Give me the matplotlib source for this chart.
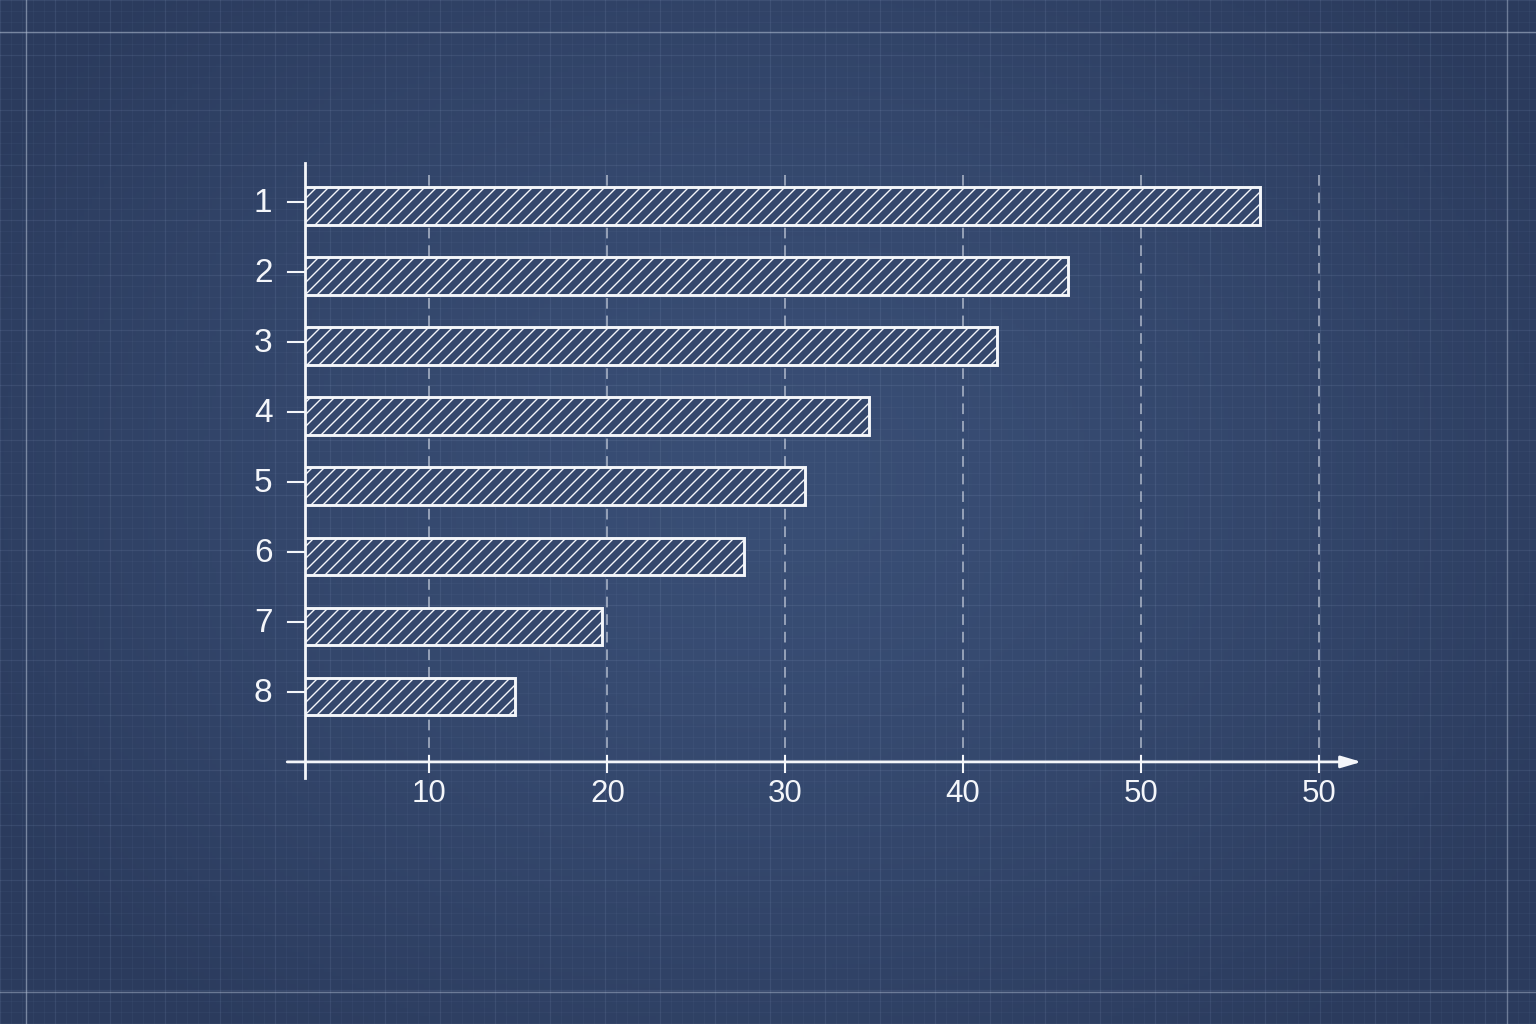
import numpy as np
import matplotlib
matplotlib.use("Agg")
import matplotlib.pyplot as plt

categories = ["1", "2", "3", "4", "5", "6", "7", "8"]
values = [56.7, 45.9, 41.9, 34.7, 31.1, 27.7, 19.7, 14.8]
x_ticks = [10, 20, 30, 40, 50, 60]
x_tick_labels = ["10", "20", "30", "40", "50", "50"]

DPI = 144
S = 100 / DPI  # scale point sizes designed at 100 dpi
BG = "#34476c"
WHITE = "#f4f6fa"
plt.rcParams['font.family'] = ['Liberation Sans', 'DejaVu Sans']
plt.rcParams['hatch.linewidth'] = 1.0 * S
plt.rcParams['hatch.color'] = WHITE

fig = plt.figure(figsize=(1536 / DPI, 1024 / DPI), dpi=DPI)

# background with vignette and faint blueprint grid
bg = fig.add_axes([0, 0, 1, 1])
bg.set_xlim(0, 1536)
bg.set_ylim(1024, 0)
bg.axis('off')
yy, xx = np.mgrid[0:1024:4, 0:1536:4]
r = np.sqrt(((xx - 768) / 900) ** 2 + ((yy - 480) / 700) ** 2)
c0 = np.array([0x39, 0x4e, 0x75]) / 255
c1 = np.array([0x2b, 0x3b, 0x5d]) / 255
t = np.clip(r, 0, 1)[..., None] ** 1.5
img = c0 * (1 - t) + c1 * t
bg.imshow(img, extent=[0, 1536, 1024, 0], aspect='auto', zorder=0)
for p in np.arange(0, 1540, 11):
    bg.axvline(p, color='#8fa3c8', lw=0.6 * S, alpha=0.07, zorder=1)
for p in np.arange(0, 1030, 11):
    bg.axhline(p, color='#8fa3c8', lw=0.6 * S, alpha=0.07, zorder=1)
for p in np.arange(0, 1540, 55):
    bg.axvline(p, color='#8fa3c8', lw=0.9 * S, alpha=0.09, zorder=1)
for p in np.arange(0, 1030, 55):
    bg.axhline(p, color='#8fa3c8', lw=0.9 * S, alpha=0.09, zorder=1)
bg.axhline(32, color='#b8c4d8', lw=1.0 * S, alpha=0.55, zorder=2)
bg.axhline(992, color='#b8c4d8', lw=1.0 * S, alpha=0.45, zorder=2)
bg.axvline(26, color='#b8c4d8', lw=1.0 * S, alpha=0.55, zorder=2)
bg.axvline(1507, color='#b8c4d8', lw=1.0 * S, alpha=0.45, zorder=2)

# main chart
ax = fig.add_axes([305 / 1536, 1 - 778 / 1024, (1365 - 305) / 1536, (778 - 163) / 1024])
ax.patch.set_alpha(0)
xmin, xmax = 3.0, 62.6
ymin, ymax = 8.17, -0.614
ax.set_xlim(xmin, xmax)
ax.set_ylim(ymin, ymax)
for s in ax.spines.values():
    s.set_visible(False)
ax.set_xticks([])
ax.set_yticks([])

ypos = np.arange(len(categories))
xaxis_y = 7.94

# dashed grid
glw = 1.1 * S
for xt in x_ticks:
    ax.plot([xt, xt], [-0.44, xaxis_y], color='#d8dee9', lw=glw,
            ls=(0, (7.0, 4.5)), alpha=0.75, zorder=1)

ax.barh(ypos, values, height=0.53, color=BG, edgecolor=WHITE, linewidth=2.1 * S,
        hatch='////', zorder=3)

# axes lines
ax.plot([xmin, xmin], [ymax, ymin], color=WHITE, lw=2.0 * S, clip_on=False, zorder=5)
ax.annotate('', xy=(62.4, xaxis_y), xytext=(2.0, xaxis_y),
            arrowprops=dict(arrowstyle='-|>,head_length=0.85,head_width=0.25', color=WHITE,
                            lw=2.0 * S, shrinkA=0, shrinkB=0),
            annotation_clip=False, zorder=5)

# ticks and labels
for xt, lab in zip(x_ticks, x_tick_labels):
    ax.plot([xt, xt], [xaxis_y - 0.08, xaxis_y + 0.14], color=WHITE, lw=1.5 * S,
            clip_on=False, zorder=5)
    ax.text(xt, xaxis_y + 0.46, lab, color=WHITE, fontsize=22.5 * S,
            ha='center', va='center', zorder=6)
for y, lab in zip(ypos, categories):
    ax.plot([2.05, xmin], [y - 0.06, y - 0.06], color=WHITE, lw=1.5 * S, clip_on=False, zorder=5)
    ax.text(0.65, y - 0.03, lab, color=WHITE, fontsize=24 * S,
            ha='center', va='center', zorder=6)

fig.savefig("out.png", dpi=DPI)
